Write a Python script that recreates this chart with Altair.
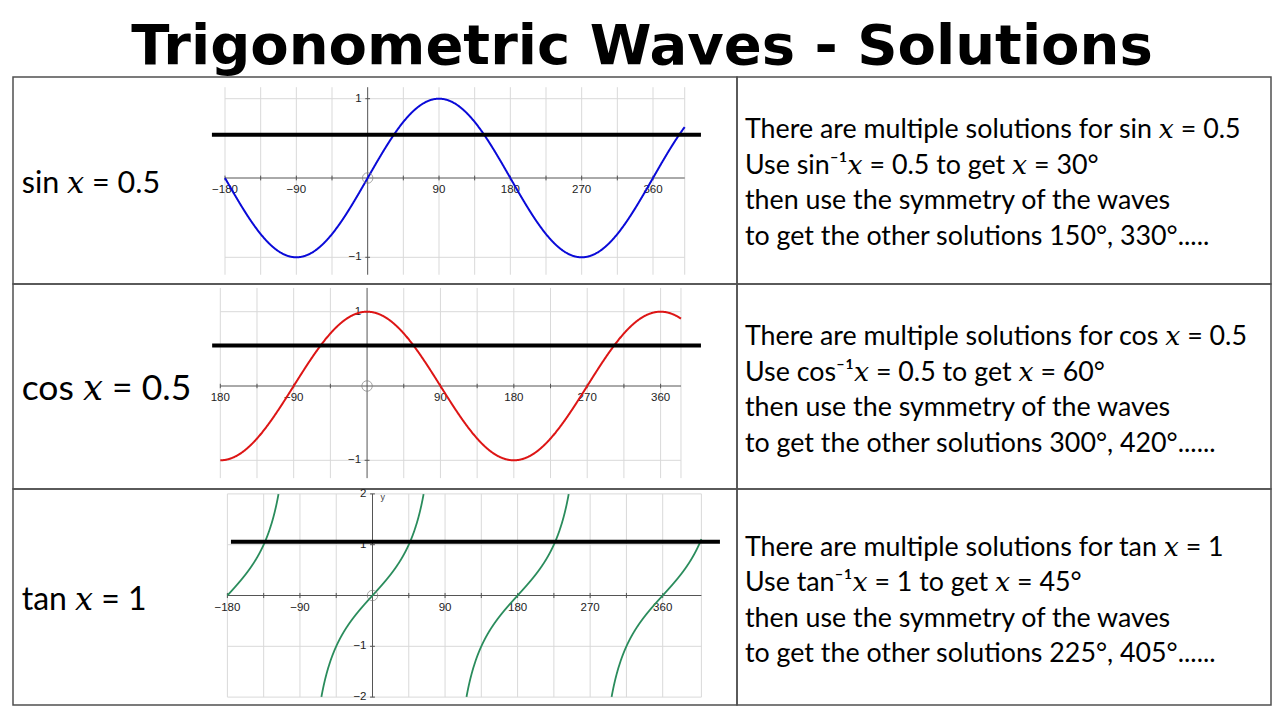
import altair as alt
import pandas as pd

# ---------------- data ----------------
TITLE = "Trigonometric Waves - Solutions"
XI = "\U0001D465"  # mathematical italic x

row_labels = [f"sin {XI} = 0.5", f"cos {XI} = 0.5", f"tan {XI} = 1"]

sin_lines = [
    f"There are multiple solutions for sin {XI} = 0.5",
    f"Use sin\u207b\u00b9{XI} = 0.5 to get {XI} = 30\u00b0",
    "then use the symmetry of the waves",
    "to get the other solutions 150\u00b0, 330\u00b0.....",
]
cos_lines = [
    f"There are multiple solutions for cos {XI} = 0.5",
    f"Use cos\u207b\u00b9{XI} = 0.5 to get {XI} = 60\u00b0",
    "then use the symmetry of the waves",
    "to get the other solutions 300\u00b0, 420\u00b0......",
]
tan_lines = [
    f"There are multiple solutions for tan {XI} = 1",
    f"Use tan\u207b\u00b9{XI} = 1 to get {XI} = 45\u00b0",
    "then use the symmetry of the waves",
    "to get the other solutions 225\u00b0, 405\u00b0......",
]

x_tick_values = [-180, -90, 90, 180, 270, 360]
x_tick_text = ["\u2212180", "\u221290", "90", "180", "270", "360"]
cos_x_tick_text = ["180", "\u221290", "90", "180", "270", "360"]
minor_ticks = [-180, -135, -90, -45, 45, 90, 135, 180, 225, 270, 315, 360]

sin_grid_x = [-180, -135, -90, -45, 45, 90, 135, 180, 225, 270, 315, 360, 400]
cos_grid_x = [-180, -135, -90, -45, 45, 90, 135, 180, 225, 270, 315, 360, 385]
tan_grid_x = [-180, -135, -90, -45, 45, 90, 135, 180, 225, 270, 315, 360, 408]

sin_y_ticks = [1, -1]
sin_y_text = ["1", "\u22121"]
tan_y_ticks = [2, 1, -1, -2]
tan_y_text = ["2", "1", "\u22121", "\u22122"]

sin_x_extent = [-180, 400]
cos_x_extent = [-180, 385]
tan_x_extent = [-180, 408]
sin_y_extent = [-1.22, 1.145]
cos_y_extent = [-1.24, 1.32]
tan_y_extent = [-2, 2]

sin_level = 0.546
cos_level = 0.546
tan_level = 1.06
sin_level_span = [-196.5, 420.5]
cos_level_span = [-190, 409.5]
tan_level_span = [-175.6, 431]

FONT = "Lato, DejaVu Serif, DejaVu Sans"
AXFONT = "Liberation Sans"

LEFT_W = 724
RIGHT_W = 534


def graph_cell(cfg):
    xs = alt.Scale(domain=cfg["xdom"], range=cfg["xrange"])
    ys = alt.Scale(domain=cfg["ydom"], range=cfg["yrange"])

    def X(f):
        return alt.X(f, type="quantitative", scale=xs, axis=None)

    def Y(f):
        return alt.Y(f, type="quantitative", scale=ys, axis=None)

    xlo, xhi = cfg["xext"]
    ylo, yhi = cfg["yext"]

    grid_v = alt.Chart(pd.DataFrame({"deg": cfg["gridx"], "lo": ylo, "hi": yhi})).mark_rule(
        color="#d9d9d9", strokeWidth=1).encode(x=X("deg"), y=Y("lo"), y2="hi")
    grid_h = alt.Chart(pd.DataFrame({"v": cfg["yticks"], "a": xlo, "b": xhi})).mark_rule(
        color="#d9d9d9", strokeWidth=1).encode(y=Y("v"), x=X("a"), x2="b")
    x_axis = alt.Chart(pd.DataFrame({"v": [0], "a": [xlo], "b": [xhi]})).mark_rule(
        color="#555555", strokeWidth=1).encode(y=Y("v"), x=X("a"), x2="b")
    y_axis = alt.Chart(pd.DataFrame({"deg": [0], "lo": [ylo], "hi": [yhi]})).mark_rule(
        color="#555555", strokeWidth=1).encode(x=X("deg"), y=Y("lo"), y2="hi")
    t = cfg["tick"]
    ticks = alt.Chart(pd.DataFrame({"deg": minor_ticks, "lo": -t, "hi": t})).mark_rule(
        color="#555555", strokeWidth=1).encode(x=X("deg"), y=Y("lo"), y2="hi")
    yt = alt.Chart(pd.DataFrame({"v": cfg["yticks"], "a": -3.0, "b": 3.0})).mark_rule(
        color="#555555", strokeWidth=1).encode(y=Y("v"), x=X("a"), x2="b")
    xlab = alt.Chart(pd.DataFrame({"deg": x_tick_values, "t": cfg["xtext"], "v": 0})).mark_text(
        dy=12, baseline="middle", fontSize=11.5, font=AXFONT, color="#222222").encode(
        x=X("deg"), y=Y("v"), text="t:N")
    ylab = alt.Chart(pd.DataFrame({"deg": 0, "v": cfg["yticks"], "t": cfg["ytext"]})).mark_text(
        dx=-6, align="right", baseline="middle", fontSize=11.5, font=AXFONT, color="#222222").encode(
        x=X("deg"), y=Y("v"), text="t:N")

    curve = alt.Chart(alt.sequence(xlo, xhi + cfg["step"], cfg["step"], as_="deg")).transform_calculate(
        y=cfg["expr"])
    if cfg.get("tan"):
        curve = curve.transform_calculate(
            branch="floor((datum.deg + 90) / 180)").transform_filter("abs(datum.y) <= 2")
        curve = curve.mark_line(color=cfg["color"], strokeWidth=1.8).encode(
            x=X("deg"), y=Y("y"), detail="branch:N")
    else:
        curve = curve.mark_line(color=cfg["color"], strokeWidth=2).encode(x=X("deg"), y=Y("y"))

    la, lb = cfg["lspan"]
    level = alt.Chart(pd.DataFrame({"v": [cfg["level"]], "a": [la], "b": [lb]})).mark_rule(
        color="black", strokeWidth=4).encode(y=Y("v"), x=X("a"), x2="b")
    origin = alt.Chart(pd.DataFrame({"deg": [0], "v": [0]})).mark_point(
        shape="circle", size=110, filled=False, color="#808080", strokeWidth=1).encode(
        x=X("deg"), y=Y("v"))

    layers = [grid_v, grid_h, x_axis, y_axis, ticks, yt, xlab, ylab, curve, level, origin]
    if cfg.get("tan"):
        ylabel = alt.Chart(pd.DataFrame({"deg": [0], "v": [2], "t": ["y"]})).mark_text(
            dx=8, dy=3, align="left", baseline="middle", fontSize=9, font=AXFONT,
            color="#444444").encode(x=X("deg"), y=Y("v"), text="t:N")
        layers.append(ylabel)

    label = alt.Chart(pd.DataFrame({"t": [cfg["label"]]})).mark_text(
        align="left", baseline="alphabetic", font=FONT, fontSize=cfg["lfs"], color="black").encode(
        x=alt.value(8.7), y=alt.value(cfg["ly"]), text="t:N")
    layers.append(label)
    return alt.layer(*layers).properties(width=LEFT_W, height=cfg["h"])


def text_cell(lines, h, b0, b3):
    return alt.Chart(pd.DataFrame({"i": list(range(len(lines))), "t": lines})).mark_text(
        align="left", baseline="alphabetic", font=FONT, fontSize=26.8, color="black").encode(
        x=alt.value(8),
        y=alt.Y("i:Q", scale=alt.Scale(domain=[0, 3], range=[b0, b3]), axis=None),
        text="t:N").properties(width=RIGHT_W, height=h)


rows_cfg = [
    dict(xdom=[-180, 360], xrange=[212, 640], ydom=[-1, 1], yrange=[180.3, 21.7],
         xext=sin_x_extent, yext=sin_y_extent, gridx=sin_grid_x, yticks=sin_y_ticks,
         ytext=sin_y_text, xtext=x_tick_text, tick=0.03, step=0.5,
         expr="sin(datum.deg * PI / 180)", color="#0a0ad8", level=sin_level,
         lspan=sin_level_span, label=row_labels[0], lfs=30.5, ly=115.7, h=207),
    dict(xdom=[-180, 360], xrange=[207.3, 647.6], ydom=[-1, 1], yrange=[176.3, 27.7],
         xext=cos_x_extent, yext=cos_y_extent, gridx=cos_grid_x, yticks=sin_y_ticks,
         ytext=sin_y_text, xtext=cos_x_tick_text, tick=0.03, step=0.5,
         expr="cos(datum.deg * PI / 180)", color="#dd1515", level=cos_level,
         lspan=cos_level_span, label=row_labels[1], lfs=35.5, ly=116, h=205),
    dict(xdom=[-180, 360], xrange=[214.4, 649.7], ydom=[-2, 2], yrange=[208.1, 4.9],
         xext=tan_x_extent, yext=tan_y_extent, gridx=tan_grid_x, yticks=tan_y_ticks,
         ytext=tan_y_text, xtext=x_tick_text, tick=0.05, step=0.1,
         expr="tan(datum.deg * PI / 180)", color="#2a8c5c", level=tan_level,
         lspan=tan_level_span, label=row_labels[2], lfs=32, ly=121, h=216, tan=True),
]

text_cfg = [
    (sin_lines, 207, 61, 168),
    (cos_lines, 205, 61, 168),
    (tan_lines, 216, 67, 173),
]

cells = []
for g, (lines, h, b0, b3) in zip(rows_cfg, text_cfg):
    cells.append(graph_cell(g))
    cells.append(text_cell(lines, h, b0, b3))

chart = alt.concat(
    *cells, columns=2, spacing=0, bounds="flush",
    title=alt.TitleParams(text=TITLE, font="DejaVu Sans", fontWeight="bold", fontSize=56,
                          color="black", anchor="middle", offset=0),
).properties(
    padding={"left": 4, "top": 11, "right": 0, "bottom": 0}
).configure_view(stroke="#505050", strokeWidth=1.5)

chart.save("out.html", embed_options={"renderer": "svg", "actions": False})
